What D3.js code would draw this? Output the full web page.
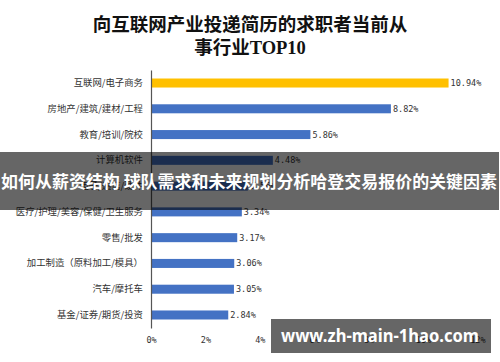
<!DOCTYPE html>
<html>
<head>
<meta charset="utf-8">
<script src="https://cdn.jsdelivr.net/npm/d3@7"></script>
<style>
  html, body { margin: 0; padding: 0; background: #fff; }
  svg { display: block; }
</style>
</head>
<body>
<svg id="chart"></svg>
<script>
// industries, top to bottom
const categories = [
    '互联网/电子商务',
    '房地产/建筑/建材/工程',
    '教育/培训/院校',
    '计算机软件',
    '电子/通信/硬件',
    '医疗/护理/美容/保健/卫生服务',
    '零售/批发',
    '加工制造（原料加工/模具）',
    '汽车/摩托车',
    '基金/证券/期货/投资'
];
const values = [10.94, 8.82, 5.86, 4.48, 3.56, 3.34, 3.17, 3.06, 3.05, 2.84];
const xTicks = [0, 2, 4, 6, 8, 10, 12];

const titleLines = ['向互联网产业投递简历的求职者当前从', '事行业TOP10'];
const bannerText = '如何从薪资结构 球队需求和未来规划分析哈登交易报价的关键因素';
const watermarkText = 'www.zh-main-1hao.com';

const width = 500;
const height = 362;

const svg = d3.select('#chart')
    .attr('width', width)
    .attr('height', height);

// Scales
const xScale = d3.scaleLinear()
    .domain([0, 12])
    .range([151, 151 + 12 * 27.2]);

const yScale = d3.scaleBand()
    .domain(categories)
    .range([70, 328])
    .paddingInner(0.65)
    .paddingOuter(0.33);

// Title
svg.append('g')
    .selectAll('text')
    .data(titleLines)
    .enter()
    .append('text')
    .attr('x', 250)
    .attr('y', (d, i) => 31 + i * 23)
    .attr('text-anchor', 'middle')
    .style('font-family', '"Liberation Serif", "Noto Sans CJK SC", serif')
    .style('font-weight', 'bold')
    .style('font-size', '18.5px')
    .style('fill', '#111')
    .text(d => d);

// Bars
svg.append('g')
    .selectAll('rect')
    .data(values)
    .enter()
    .append('rect')
    .attr('x', xScale(0))
    .attr('y', (d, i) => yScale(categories[i]))
    .attr('width', d => xScale(d) - xScale(0))
    .attr('height', yScale.bandwidth())
    .style('fill', (d, i) => i === 0 ? '#FFC000' : '#4472C4');

// Value labels
svg.append('g')
    .selectAll('text')
    .data(values)
    .enter()
    .append('text')
    .attr('x', d => xScale(d) + 2)
    .attr('y', (d, i) => yScale(categories[i]) + yScale.bandwidth() / 2)
    .attr('dy', '0.35em')
    .style('font-family', '"DejaVu Sans Mono", monospace')
    .style('font-size', '8.5px')
    .style('fill', '#333')
    .text(d => d.toFixed(2) + '%');

// Y axis (line + category labels)
const yAxis = svg.append('g')
    .attr('transform', `translate(${xScale(0)}, 0)`)
    .call(d3.axisLeft(yScale).tickSize(0).tickPadding(8));

yAxis.select('.domain')
    .attr('stroke', '#555')
    .attr('stroke-width', 1.2);

yAxis.selectAll('text')
    .style('font-family', '"Noto Sans CJK SC", sans-serif')
    .style('font-size', '9.4px')
    .style('fill', '#333');

// X axis (labels only)
const xAxis = svg.append('g')
    .attr('transform', 'translate(0, 333)')
    .call(d3.axisBottom(xScale)
        .tickValues(xTicks)
        .tickSize(0)
        .tickPadding(4)
        .tickFormat(d => d + '%'));

xAxis.select('.domain').remove();
xAxis.selectAll('text')
    .style('font-family', '"DejaVu Sans Mono", monospace')
    .style('font-size', '8.5px')
    .style('fill', '#333');

// Banner overlay
svg.append('rect')
    .attr('x', 0)
    .attr('y', 152)
    .attr('width', 499)
    .attr('height', 58)
    .style('fill', 'rgba(0, 0, 0, 0.6)');

svg.append('text')
    .attr('x', 249)
    .attr('y', 182)
    .attr('dy', '0.35em')
    .attr('text-anchor', 'middle')
    .attr('textLength', 496)
    .attr('lengthAdjust', 'spacingAndGlyphs')
    .style('font-family', '"Noto Sans CJK SC", sans-serif')
    .style('font-weight', 'bold')
    .style('font-size', '16.5px')
    .style('fill', '#fff')
    .text(bannerText);

// Watermark
svg.append('rect')
    .attr('x', 271)
    .attr('y', 319)
    .attr('width', 220)
    .attr('height', 34)
    .style('fill', 'rgba(0, 0, 0, 0.6)');

svg.append('text')
    .attr('x', 380)
    .attr('y', 336)
    .attr('dy', '0.35em')
    .attr('text-anchor', 'middle')
    .attr('textLength', 198)
    .attr('lengthAdjust', 'spacingAndGlyphs')
    .style('font-family', '"Noto Sans", sans-serif')
    .style('font-weight', 'bold')
    .style('font-size', '17px')
    .style('fill', '#fff')
    .text(watermarkText);
</script>
</body>
</html>
